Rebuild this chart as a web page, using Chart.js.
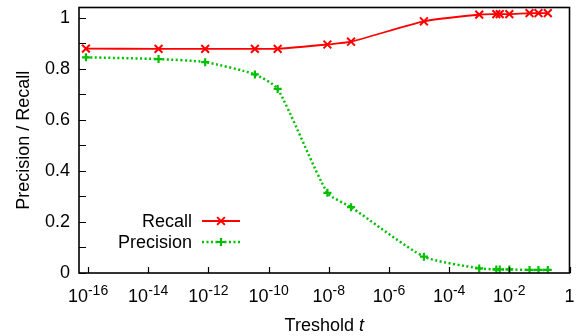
<!DOCTYPE html>
<html><head><meta charset="utf-8">
<script src="https://cdn.jsdelivr.net/npm/chart.js@4"></script>
<style>html,body{margin:0;padding:0;background:#fff;}#wrap{width:577px;height:336px;position:relative}</style>
</head><body><div id="wrap"><canvas id="c" width="577" height="336"></canvas></div>
<script>
// ---- data ----
const thresholds = [8.5e-17, 2.2e-14, 7.8e-13, 3.5e-11, 2.0e-10, 9.0e-9, 5.5e-8, 1.45e-5, 1.0e-3, 3.7e-3, 4.8e-3, 1.0e-2, 4.7e-2, 9.3e-2, 0.19];
const recall     = [0.879, 0.878, 0.878, 0.878, 0.878, 0.895, 0.906, 0.986, 1.012, 1.014, 1.014, 1.014, 1.018, 1.018, 1.018];
const precision  = [0.845, 0.838, 0.826, 0.778, 0.721, 0.314, 0.258, 0.064, 0.018, 0.014, 0.014, 0.014, 0.012, 0.012, 0.012];
const seriesNames = ['Recall', 'Precision'];
const xTickExponents = [-16, -14, -12, -10, -8, -6, -4, -2, 0];
const yTickLabels = [0, 0.2, 0.4, 0.6, 0.8, 1];
const yMinorTicks = [0.1, 0.3, 0.5, 0.7, 0.9];
const xTitleMain = 'Treshold ';
const xTitleVar = 't';
const yTitle = 'Precision / Recall';

const FONT = '"Liberation Sans", Arial, Helvetica, sans-serif';

function drawMarker(ctx, style, x, y, r) {
  ctx.beginPath();
  if (style === 'crossRot') {
    const d = r * Math.SQRT1_2;
    ctx.moveTo(x - d, y - d); ctx.lineTo(x + d, y + d);
    ctx.moveTo(x - d, y + d); ctx.lineTo(x + d, y - d);
  } else {
    ctx.moveTo(x - r, y); ctx.lineTo(x + r, y);
    ctx.moveTo(x, y - r); ctx.lineTo(x, y + r);
  }
  ctx.stroke();
}

const decorPlugin = {
  id: 'decor',
  afterDraw(chart) {
    const ctx = chart.ctx;
    const a = chart.chartArea;
    const xs = chart.scales.x, ys = chart.scales.y;
    ctx.save();
    // frame
    ctx.strokeStyle = '#000';
    ctx.lineWidth = 1.6;
    ctx.setLineDash([]);
    ctx.strokeRect(a.left, a.top, a.right - a.left, a.bottom - a.top);
    // y ticks (inward)
    ctx.lineWidth = 1.2;
    ctx.beginPath();
    yTickLabels.concat(yMinorTicks).forEach(v => {
      const py = Math.round(ys.getPixelForValue(v)) + 0.5;
      ctx.moveTo(a.left, py); ctx.lineTo(a.left + 7, py);
    });
    // x ticks (inward)
    xTickExponents.forEach(e => {
      const px = Math.round(xs.getPixelForValue(Math.pow(10, e))) + 0.5;
      ctx.moveTo(px, a.bottom); ctx.lineTo(px, a.bottom - 6);
    });
    ctx.stroke();
    // x tick labels with superscripts
    ctx.fillStyle = '#000';
    ctx.textBaseline = 'alphabetic';
    ctx.textAlign = 'left';
    xTickExponents.forEach(e => {
      const px = xs.getPixelForValue(Math.pow(10, e));
      if (e === 0) {
        ctx.font = '18px ' + FONT;
        const w = ctx.measureText('1').width;
        ctx.fillText('1', px - w / 2, 302);
        return;
      }
      ctx.font = '18px ' + FONT;
      const w1 = ctx.measureText('10').width;
      ctx.font = '14px ' + FONT;
      const sup = String(e);
      const w2 = ctx.measureText(sup).width;
      const x0 = px - (w1 + w2) / 2;
      ctx.font = '18px ' + FONT;
      ctx.fillText('10', x0, 302);
      ctx.font = '14px ' + FONT;
      ctx.fillText(sup, x0 + w1, 295);
    });
    // x title
    ctx.font = '18px ' + FONT;
    const wm = ctx.measureText(xTitleMain).width;
    ctx.font = 'italic 18px ' + FONT;
    const wv = ctx.measureText(xTitleVar).width;
    const cx = (a.left + a.right) / 2;
    const tx = cx - (wm + wv) / 2;
    ctx.font = '18px ' + FONT;
    ctx.fillText(xTitleMain, tx, 331);
    ctx.font = 'italic 18px ' + FONT;
    ctx.fillText(xTitleVar, tx + wm, 331);
    // legend (text right-aligned, sample line to its right)
    chart.data.datasets.forEach((ds, i) => {
      const ly = 221 + i * 21;
      ctx.font = '18px ' + FONT;
      ctx.textAlign = 'right';
      ctx.textBaseline = 'middle';
      ctx.fillStyle = '#000';
      ctx.fillText(ds.label, 192, ly + 1);
      ctx.strokeStyle = ds.borderColor;
      ctx.lineWidth = ds.borderWidth;
      ctx.setLineDash(ds.borderDash || []);
      ctx.beginPath();
      ctx.moveTo(202, ly); ctx.lineTo(240, ly);
      ctx.stroke();
      ctx.setLineDash([]);
      ctx.lineWidth = ds.pointBorderWidth;
      drawMarker(ctx, ds.pointStyle, 221, ly, ds.pointRadius);
    });
    ctx.restore();
  }
};

const toPoints = vals => thresholds.map((t, i) => ({ x: t, y: vals[i] }));

new Chart(document.getElementById('c'), {
  type: 'line',
  data: {
    datasets: [
      {
        label: seriesNames[0],
        data: toPoints(recall),
        borderColor: '#ff0000',
        backgroundColor: '#ff0000',
        borderWidth: 1.8,
        pointStyle: 'crossRot',
        pointRadius: 5.5,
        pointBorderWidth: 2,
        pointBorderColor: '#ff0000',
        tension: 0.2,
        fill: false
      },
      {
        label: seriesNames[1],
        data: toPoints(precision),
        borderColor: '#00c000',
        backgroundColor: '#00c000',
        borderWidth: 2.5,
        borderDash: [2, 2.5],
        pointStyle: 'cross',
        pointRadius: 4,
        pointBorderWidth: 2.2,
        pointBorderColor: '#00c000',
        tension: 0.2,
        fill: false
      }
    ]
  },
  options: {
    responsive: false,
    animation: false,
    devicePixelRatio: 1,
    layout: { padding: { top: 6, right: 5, bottom: 0, left: 0 } },
    plugins: { legend: { display: false }, tooltip: { enabled: false } },
    scales: {
      x: {
        type: 'logarithmic',
        min: 5.3e-17,
        max: 1,
        ticks: { display: false },
        grid: { display: false, drawTicks: false },
        border: { display: false },
        afterFit: s => { s.height = 63; s.paddingLeft = 0; s.paddingRight = 0; }
      },
      y: {
        min: 0,
        max: 1.04,
        afterBuildTicks: s => { s.ticks = yTickLabels.map(v => ({ value: v })); },
        ticks: {
          font: { size: 18, family: FONT },
          color: '#000',
          padding: 9,
          callback: v => String(v)
        },
        grid: { display: false, drawTicks: false },
        border: { display: false },
        title: {
          display: true,
          text: yTitle,
          color: '#000',
          font: { size: 18, family: FONT },
          padding: { top: 13, bottom: 0 }
        },
        afterFit: s => { s.width = 79; s.paddingTop = 0; s.paddingBottom = 0; }
      }
    }
  },
  plugins: [decorPlugin]
});
</script>
</body></html>
